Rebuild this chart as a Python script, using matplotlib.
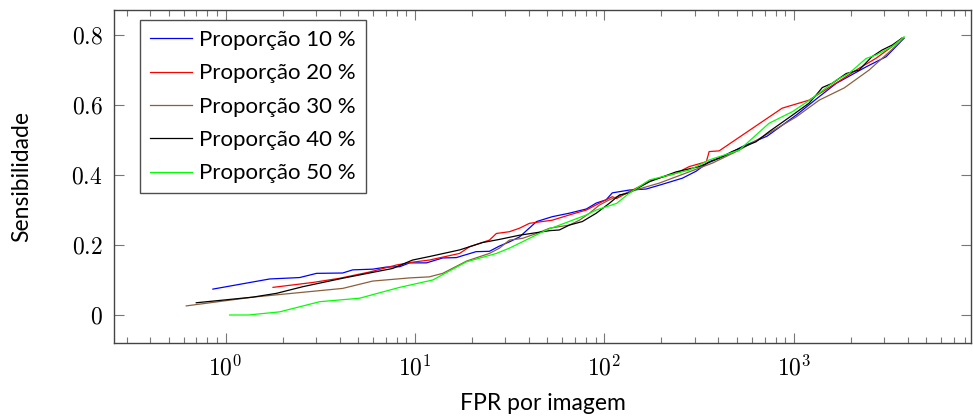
import matplotlib
matplotlib.use("Agg")
import matplotlib.pyplot as plt
import matplotlib.ticker as mticker
import numpy as np

# ---- data (FPR per image, sensitivity) ----
x10 = [0.857, 1.71, 2.46, 3.02, 4.15, 4.69, 5.98, 7.06, 8.3, 9.37, 11.5, 14.0, 16.5, 21.0, 24.7,
       27.9, 31.5, 35.6, 43.8, 53.1, 65.3, 80.3, 90.6, 102, 110, 135, 166, 195, 258, 305, 357,
       440, 533, 722, 1028, 1361, 1673, 2404, 3066, 3590, 3815]
y10 = [0.074, 0.103, 0.107, 0.119, 0.120, 0.129, 0.131, 0.137, 0.138, 0.149, 0.149, 0.163, 0.164,
       0.181, 0.182, 0.197, 0.209, 0.223, 0.267, 0.281, 0.291, 0.303, 0.320, 0.329, 0.349, 0.357,
       0.360, 0.371, 0.391, 0.411, 0.438, 0.457, 0.481, 0.511, 0.571, 0.624, 0.662, 0.709, 0.738,
       0.776, 0.791]

x20 = [1.78, 2.89, 4.0, 5.77, 8.0, 9.7, 11.9, 17.2, 19.4, 24.7, 26.9, 31.5, 35.6, 40.2, 53.1,
       65.3, 80.3, 97.5, 110, 116, 135, 179, 239, 280, 345, 357, 403, 867, 1203, 1663, 2208,
       2704, 3296, 3720]
y20 = [0.079, 0.093, 0.105, 0.123, 0.143, 0.151, 0.157, 0.176, 0.195, 0.214, 0.233, 0.238, 0.248,
       0.262, 0.271, 0.286, 0.300, 0.324, 0.338, 0.333, 0.352, 0.386, 0.405, 0.424, 0.438, 0.467,
       0.469, 0.591, 0.614, 0.662, 0.705, 0.733, 0.767, 0.791]

x30 = [0.62, 1.39, 4.15, 5.98, 9.37, 11.9, 14.0, 18.7, 24.7, 27.9, 31.5, 36.9, 43.8, 51.3, 65.3,
       73.8, 83.4, 94, 106, 135, 195, 280, 371, 514, 740, 1028, 1361, 1845, 2495, 3178, 3815]
y30 = [0.026, 0.051, 0.076, 0.097, 0.106, 0.109, 0.119, 0.154, 0.176, 0.191, 0.214, 0.219, 0.233,
       0.248, 0.257, 0.271, 0.291, 0.314, 0.329, 0.352, 0.377, 0.409, 0.434, 0.471, 0.520, 0.566,
       0.614, 0.649, 0.700, 0.751, 0.791]

x40 = [0.70, 1.39, 1.86, 2.56, 4.15, 7.62, 9.7, 11.9, 17.2, 22.7, 27.9, 35.6, 51.3, 57.8, 65.3,
       76.4, 90.6, 106, 120, 135, 173, 239, 316, 403, 472, 631, 740, 982, 1200, 1312, 1413, 1592,
       1888, 2208, 2582, 2917, 3296, 3720]
y40 = [0.035, 0.051, 0.062, 0.081, 0.105, 0.133, 0.157, 0.167, 0.186, 0.207, 0.216, 0.228, 0.241,
       0.243, 0.257, 0.267, 0.291, 0.319, 0.343, 0.349, 0.381, 0.409, 0.424, 0.448, 0.467, 0.495,
       0.524, 0.571, 0.605, 0.629, 0.650, 0.662, 0.690, 0.700, 0.738, 0.757, 0.771, 0.791]

x50 = [1.05, 1.32, 1.93, 3.14, 5.1, 8.3, 12.4, 18.7, 26.9, 31.5, 49.4, 60, 80.3, 90.6, 116, 135,
       173, 280, 357, 514, 740, 982, 1250, 1673, 1959, 2404, 2717, 3296, 3815]
y50 = [0.0, 0.0, 0.009, 0.038, 0.048, 0.079, 0.100, 0.152, 0.176, 0.191, 0.243, 0.260, 0.286,
       0.300, 0.319, 0.348, 0.386, 0.414, 0.443, 0.471, 0.548, 0.581, 0.619, 0.671, 0.691, 0.733,
       0.743, 0.767, 0.795]

labels = ["Proporção 10 %", "Proporção 20 %", "Proporção 30 %", "Proporção 40 %", "Proporção 50 %"]
colors = ["#0000ff", "#ff0000", "#8c5f3c", "#000000", "#00ff00"]

yticks = [0, 0.2, 0.4, 0.6, 0.8]
ytick_labels = ["$0$", "$0.2$", "$0.4$", "$0.6$", "$0.8$"]
xticks = [1, 10, 100, 1000]
xtick_labels = ["$10^{0}$", "$10^{1}$", "$10^{2}$", "$10^{3}$"]

plt.rcParams["mathtext.fontset"] = "cm"
plt.rcParams["font.family"] = ["Lato", "DejaVu Sans"]

fig = plt.figure(figsize=(9.73, 4.18), dpi=100)
ax = fig.add_axes([114 / 973, 1 - 343 / 418, (971 - 114) / 973, (343 - 9.5) / 418])

series = [(x10, y10), (x20, y20), (x30, y30), (x40, y40), (x50, y50)]
for (xs, ys), lab, c in zip(series, labels, colors):
    ax.plot(xs, ys, color=c, lw=0.9, label=lab)

ax.set_xscale("log")
ax.set_xlim(10 ** -0.589, 10 ** 3.935)
ax.set_ylim(-0.08, 0.873)

ax.set_xticks(xticks)
ax.set_xticklabels(xtick_labels, fontsize=17)
ax.xaxis.set_minor_locator(mticker.LogLocator(base=10, subs=np.arange(2, 10), numticks=20))
ax.xaxis.set_minor_formatter(mticker.NullFormatter())
ax.set_yticks(yticks)
ax.set_yticklabels(ytick_labels, fontsize=17)

spine_col = "#444444"
for s in ax.spines.values():
    s.set_color(spine_col)
    s.set_linewidth(1.0)
ax.tick_params(which="major", direction="in", length=7, width=0.8, color="#777777",
               top=True, right=True, labelcolor="black")
ax.tick_params(which="minor", direction="in", length=4.5, width=0.8, color="#777777",
               top=True, right=True)
ax.tick_params(axis="x", which="major", pad=8)
ax.tick_params(axis="y", which="major", pad=8)

ax.set_xlabel("FPR por imagem", fontsize=16.5, labelpad=10)
ax.set_ylabel("Sensibilidade", fontsize=16.5, labelpad=28)

leg = ax.legend(loc="upper left", bbox_to_anchor=(26 / 857, 1 - 10.5 / 333.5), fontsize=16,
                frameon=True, fancybox=False, handlelength=1.9, handletextpad=0.3,
                borderpad=0.45, labelspacing=0.6, borderaxespad=0)
leg.get_frame().set_edgecolor("#222222")
leg.get_frame().set_linewidth(1.0)

fig.savefig("out.png", dpi=100)
